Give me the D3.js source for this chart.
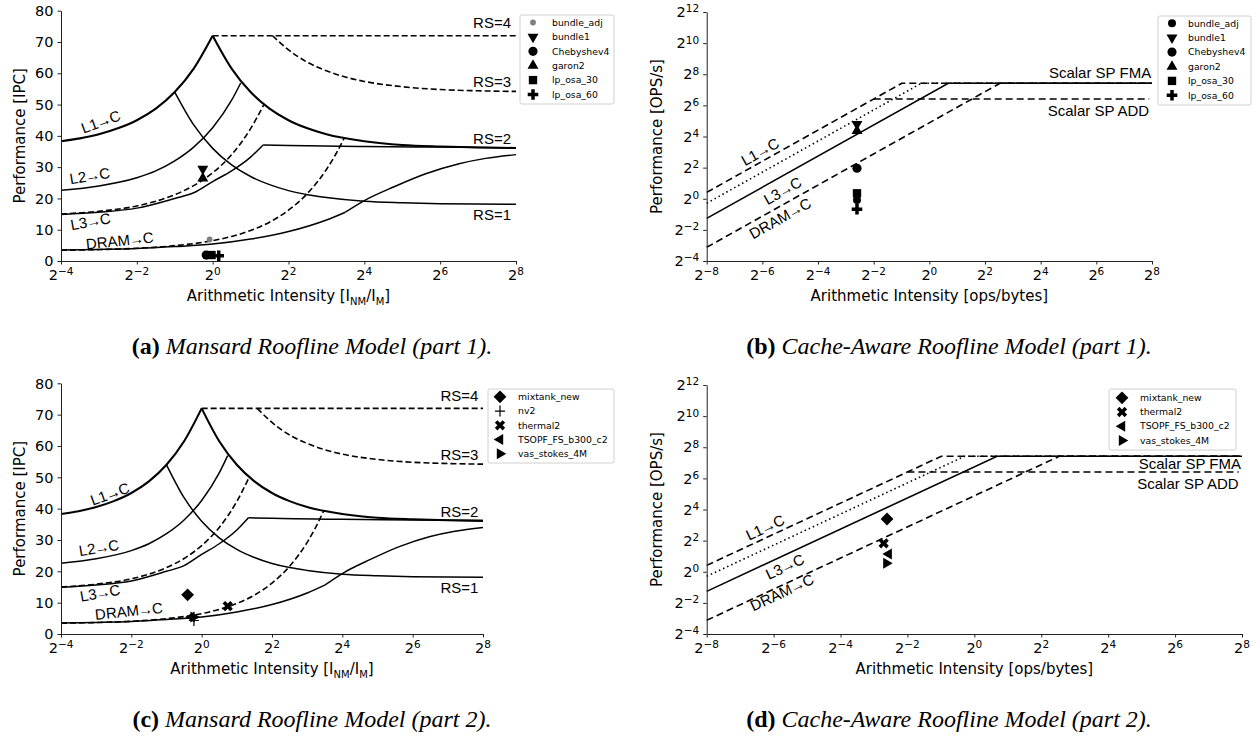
<!DOCTYPE html>
<html>
<head>
<meta charset="utf-8">
<script src="https://cdn.jsdelivr.net/npm/d3@7"></script>
<style>
  body { margin: 0; background: #fff; }
</style>
</head>
<body>
<script>
// ---- values ----
// Mansard curves: x is log2(I_NM/I_M), y is IPC
const l1Exp = [-4, -3.5, -3, -2.5, -2, -1.5, -1, -0.5, 0];
const l1Ipc = [38.3, 39.2, 40.5, 42.4, 45, 48.7, 54, 61.5, 72];
const rs2Exp = [0, 0.5, 1, 1.5, 2, 2.5, 3, 4, 5, 6, 7, 8];
const rs2Ipc = [72, 61.5, 54, 48.7, 45, 42.4, 40.5, 38.3, 37.1, 36.6, 36.3, 36.1];
const rs1Exp = [-1, -0.5, 0, 0.5, 1, 1.5, 2, 2.5, 3, 4, 5, 6, 8];
const rs1Ipc = [54, 43.5, 36, 30.7, 27, 24.4, 22.5, 21.2, 20.3, 19.1, 18.6, 18.3, 18.1];
const rs3Exp = [1.58, 2, 2.5, 3, 3.5, 4, 5, 6, 7, 8];
const rs3Ipc = [72, 67.5, 63.5, 60.8, 58.8, 57.4, 55.7, 54.8, 54.4, 54.2];
const rs4Exp = [0, 8];
const rs4Ipc = [72, 72];
const l2Exp = [-4, -3, -2, -1.5, -1, -0.5, 0, 0.5, 0.74];
const l2Ipc = [22.6, 24, 26.6, 28.8, 32, 36.4, 42.6, 51.4, 56.9];
const l3DashExp = [-4, -3, -2, -1, -0.5, 0, 0.5, 1, 1.35];
const l3DashIpc = [15, 15.9, 17.6, 21.2, 24.1, 28.2, 34, 42.3, 50];
const l3Exp = [-4, -3, -2, -1, -0.5, 0, 0.5, 1, 1.33];
const l3Ipc = [14.9, 15.6, 16.9, 20, 21.8, 25.4, 28.8, 33.2, 37.1];
const l3FlatExp = [1.33, 2, 4, 6, 8];
const l3FlatIpc = [37.1, 36.9, 36.6, 36.4, 36.2];
const dramDashExp = [-4, -3, -2, -1, 0, 0.5, 1, 1.5, 2, 2.5, 3, 3.25, 3.47];
const dramDashIpc = [3.45, 3.66, 4.06, 4.9, 6.5, 7.85, 9.75, 12.4, 16.25, 21.6, 29.25, 34.2, 39.3];
const dramExp = [-4, -3, -2, -1, 0, 1, 2, 3, 3.5];
const dramIpc = [3.5, 3.7, 4.0, 4.6, 5.4, 7.0, 9.4, 13.1, 15.6];
const dramHighExp = [3.5, 4, 4.8, 5.6, 6.5, 7.2, 8];
const dramHighIpc = [15.6, 19.3, 23.8, 27.8, 31.1, 32.8, 34.0];

// cache-aware roofs, all log2
const roofNames = ["L1", "L2", "L3", "DRAM"];
const roofBw = [8.41, 7.71, 6.74, 4.88];
const peakFma = 7.42;
const peakAdd = 6.41;

// benchmark matrices
const part1Names = ["bundle_adj", "bundle1", "Chebyshev4", "garon2", "lp_osa_30", "lp_osa_60"];
const mansard1Exp = [-0.08, -0.26, -0.17, -0.26, -0.03, 0.16];
const mansard1Ipc = [6.9, 29.4, 1.9, 26.4, 1.9, 1.7];
const car1Exp = [-2.6, -2.6, -2.6, -2.6, -2.6, -2.6];
const car1Perf = [-0.08, 4.8, 1.96, 4.37, 0.35, -0.68];

const part2Names = ["mixtank_new", "nv2", "thermal2", "TSOPF_FS_b300_c2", "vas_stokes_4M"];
const mansard2Exp = [-0.40, -0.22, 0.74, -0.29, -0.23];
const mansard2Ipc = [12.5, 4.3, 8.9, 5.4, 5.4];
const car2Names = ["mixtank_new", "thermal2", "TSOPF_FS_b300_c2", "vas_stokes_4M"];
const car2Exp = [-2.61, -2.71, -2.56, -2.63];
const car2Perf = [3.39, 1.83, 1.14, 0.54];

// ticks
const ipcTicks = [0, 10, 20, 30, 40, 50, 60, 70, 80];
const mansardXTicks = [-4, -2, 0, 2, 4, 6, 8];
const carXTicks = [-8, -6, -4, -2, 0, 2, 4, 6, 8];
const carYTicks = [-4, -2, 0, 2, 4, 6, 8, 10, 12];

const markerOf = {
  bundle_adj: "circleSmall", bundle1: "triDown", Chebyshev4: "circle", garon2: "triUp",
  lp_osa_30: "square", lp_osa_60: "plusFilled", mixtank_new: "diamond", nv2: "plusThin",
  thermal2: "xFilled", TSOPF_FS_b300_c2: "triLeft", vas_stokes_4M: "triRight"
};

const tickFont = "'DejaVu Sans', sans-serif";
const curveFont = "'Liberation Sans', Arial, sans-serif";
const serifFont = "'Liberation Serif', 'DejaVu Serif', serif";

const svg = d3.select("body").append("svg")
  .attr("width", 1260)
  .attr("height", 740);

function zip(a, b) { return a.map((v, i) => [v, b[i]]); }

function supLabel(text, exp) {
  text.append("tspan").text("2");
  text.append("tspan")
    .attr("dy", "-0.45em")
    .attr("font-size", "10.5px")
    .text(exp < 0 ? "\u2212" + (-exp) : exp);
}

// "L1→C" style label with a tighter arrow
function arrowLabel(text, src) {
  text.append("tspan").text(src);
  text.append("tspan").attr("dx", -1).text("\u2192");
  text.append("tspan").attr("dx", -1).text("C");
}

function drawMarker(g, kind, px, py, adjGray) {
  if (kind === "plusThin") {
    g.append("path")
      .attr("d", `M${px - 5},${py}H${px + 5}M${px},${py - 5.5}V${py + 5.5}`)
      .attr("stroke", "#000").attr("stroke-width", 1.2).attr("fill", "none");
    return;
  }
  const spec = {
    circle: [d3.symbolCircle, 66, 0],
    circleSmall: adjGray ? [d3.symbolCircle, 26, 0] : [d3.symbolCircle, 50, 0],
    triUp: [d3.symbolTriangle, 52, 0],
    triDown: [d3.symbolTriangle, 52, 180],
    triLeft: [d3.symbolTriangle, 52, -90],
    triRight: [d3.symbolTriangle, 52, 90],
    square: [d3.symbolSquare, 70, 0],
    diamond: [d3.symbolSquare, 82, 45],
    plusFilled: [d3.symbolCross, 62, 0],
    xFilled: [d3.symbolCross, 66, 45]
  }[kind];
  g.append("path")
    .attr("d", d3.symbol(spec[0], spec[1])())
    .attr("transform", `translate(${px},${py}) rotate(${spec[2]})`)
    .attr("fill", kind === "circleSmall" && adjGray ? "#7f7f7f" : "#000");
}

function drawLegend(box, names, adjGray) {
  const g = svg.append("g");
  g.append("rect")
    .attr("x", box.x).attr("y", box.y)
    .attr("width", box.w).attr("height", box.h)
    .attr("rx", 2)
    .attr("fill", "#fff").attr("fill-opacity", 0.85)
    .attr("stroke", "#d0d0d0");
  names.forEach((n, i) => {
    const cy = box.row0 + i * box.step;
    drawMarker(g, markerOf[n], box.mx, cy, adjGray);
    g.append("text")
      .attr("x", box.tx).attr("y", cy).attr("dy", "0.35em")
      .attr("font-family", tickFont).attr("font-size", "9.3px")
      .text(n);
  });
}

function drawAxes(box, x, y, xTicks, yTicks, logY) {
  const g = svg.append("g").attr("font-family", tickFont);
  g.append("g").attr("transform", `translate(0,${box.bottom})`)
    .call(d3.axisBottom(x).tickValues(xTicks.map(e => 2 ** e)).tickSize(3.5).tickSizeOuter(0).tickFormat(""));
  g.append("g").attr("transform", `translate(${box.left},0)`)
    .call(d3.axisLeft(y).tickValues(logY ? yTicks.map(e => 2 ** e) : yTicks).tickSize(3.5).tickSizeOuter(0).tickFormat(""));
  g.selectAll(".domain, .tick line").attr("stroke", "#222");

  g.selectAll(".xlab").data(xTicks).join("text")
    .attr("x", e => x(2 ** e)).attr("y", box.bottom + 19)
    .attr("text-anchor", "middle").attr("font-size", "14.5px")
    .each(function (e) { supLabel(d3.select(this), e); });

  const yl = g.selectAll(".ylab").data(yTicks).join("text")
    .attr("x", box.left - 7.5)
    .attr("y", d => logY ? y(2 ** d) : y(d))
    .attr("dy", "0.36em")
    .attr("text-anchor", "end").attr("font-size", "14.5px");
  if (logY) yl.each(function (e) { supLabel(d3.select(this), e); });
  else yl.text(d => d);
}

function xTitle(box, mansard) {
  const t = svg.append("text")
    .attr("x", (box.left + box.right) / 2).attr("y", box.bottom + 40)
    .attr("text-anchor", "middle")
    .attr("font-family", tickFont).attr("font-size", "15px");
  if (mansard) {
    t.append("tspan").text("Arithmetic Intensity [I");
    t.append("tspan").attr("dy", 3.5).attr("font-size", "10px").text("NM");
    t.append("tspan").attr("dy", -3.5).text("/I");
    t.append("tspan").attr("dy", 3.5).attr("font-size", "10px").text("M");
    t.append("tspan").attr("dy", -3.5).text("]");
  } else {
    t.text("Arithmetic Intensity [ops/bytes]");
  }
}

function yTitle(box, xpos, label) {
  svg.append("text")
    .attr("transform", `translate(${xpos},${(box.top + box.bottom) / 2}) rotate(-90)`)
    .attr("text-anchor", "middle")
    .attr("font-family", tickFont).attr("font-size", "15px")
    .text(label);
}

function caption(cx, by, tag, rest) {
  const t = svg.append("text")
    .attr("x", cx).attr("y", by)
    .attr("text-anchor", "middle")
    .attr("font-family", serifFont).attr("font-size", "24px");
  t.append("tspan").attr("font-weight", "bold").text(tag);
  t.append("tspan").attr("font-style", "italic").text(" " + rest);
}

function drawMansard(box, names, exps, ipcs, labels, adjGray) {
  const x = d3.scaleLog().base(2).domain([2 ** -4, 2 ** 8]).range([box.left, box.right]);
  const y = d3.scaleLinear().domain([0, 80]).range([box.bottom, box.top]);

  const line = d3.line()
    .x(d => x(2 ** d[0]))
    .y(d => y(d[1]))
    .curve(d3.curveMonotoneX);

  const series = [
    { d: zip(rs4Exp, rs4Ipc), dash: "6,3", w: 1.6 },
    { d: zip(rs3Exp, rs3Ipc), dash: "6,3", w: 1.6 },
    { d: zip(l3DashExp, l3DashIpc), dash: "6,3", w: 1.6 },
    { d: zip(dramDashExp, dramDashIpc), dash: "6,3", w: 1.6 },
    { d: zip(rs1Exp, rs1Ipc), dash: null, w: 1.5 },
    { d: zip(l2Exp, l2Ipc), dash: null, w: 1.5 },
    { d: zip(l3Exp, l3Ipc), dash: null, w: 1.5 },
    { d: zip(l3FlatExp, l3FlatIpc), dash: null, w: 1.5 },
    { d: zip(dramExp, dramIpc), dash: null, w: 1.5 },
    { d: zip(dramHighExp, dramHighIpc), dash: null, w: 1.5 },
    { d: zip(l1Exp, l1Ipc), dash: null, w: 2.1 },
    { d: zip(rs2Exp, rs2Ipc), dash: null, w: 2.1 }
  ];

  svg.append("g").selectAll("path")
    .data(series)
    .join("path")
    .attr("d", s => line(s.d))
    .attr("fill", "none")
    .attr("stroke", "#000")
    .attr("stroke-width", s => s.w)
    .attr("stroke-dasharray", s => s.dash);

  drawAxes(box, x, y, mansardXTicks, ipcTicks, false);

  // RS labels at the right end
  const rs = [["RS=4", 74.4], ["RS=3", 55.6], ["RS=2", 37.4], ["RS=1", 13.1]];
  svg.append("g").selectAll("text").data(rs).join("text")
    .attr("x", x(2 ** 7.87)).attr("y", d => y(d[1]))
    .attr("text-anchor", "end")
    .attr("font-family", curveFont).attr("font-size", "15px")
    .text(d => d[0]);

  svg.append("g").selectAll("text").data(labels).join("text")
    .attr("transform", d => `translate(${x(2 ** d[1])},${y(d[2])}) rotate(${d[3]})`)
    .attr("text-anchor", "middle").attr("dy", "0.35em")
    .attr("font-family", curveFont).attr("font-size", "15px")
    .each(function (d) { arrowLabel(d3.select(this), d[0]); });

  const pg = svg.append("g");
  names.forEach((n, i) => drawMarker(pg, markerOf[n], x(2 ** exps[i]), y(ipcs[i]), adjGray));
  xTitle(box, true);
  yTitle(box, 24.5, "Performance [IPC]");
}

function drawCacheAware(box, names, exps, perfs, labels, fmaLabelY) {
  const x = d3.scaleLog().base(2).domain([2 ** -8, 2 ** 8]).range([box.left, box.right]);
  const y = d3.scaleLog().base(2).domain([2 ** -4, 2 ** 12]).range([box.bottom, box.top]);

  const line = d3.line().x(d => x(2 ** d[0])).y(d => y(2 ** d[1]));
  const styles = { L1: "7,4", L2: "1.5,3", L3: null, DRAM: "7,4", ADD: "7,4" };

  const roofs = roofNames.map((n, i) => ({
    name: n,
    d: [[-8, roofBw[i] - 8], [peakFma - roofBw[i], peakFma], [8, peakFma]]
  }));
  roofs.push({ name: "ADD", d: [[peakAdd - roofBw[0], peakAdd], [7.9, peakAdd]] });

  svg.append("g").selectAll("path")
    .data(roofs)
    .join("path")
    .attr("d", r => line(r.d))
    .attr("fill", "none")
    .attr("stroke", "#000")
    .attr("stroke-width", 1.6)
    .attr("stroke-dasharray", r => styles[r.name]);

  drawAxes(box, x, y, carXTicks, carYTicks, true);

  svg.append("text")
    .attr("x", x(2 ** 7.97)).attr("y", y(2 ** fmaLabelY))
    .attr("text-anchor", "end")
    .attr("font-family", curveFont).attr("font-size", "15px")
    .text("Scalar SP FMA");
  svg.append("text")
    .attr("x", x(2 ** 7.9)).attr("y", y(2 ** 5.3))
    .attr("text-anchor", "end")
    .attr("font-family", curveFont).attr("font-size", "15px")
    .text("Scalar SP ADD");

  const ang = -Math.atan((y(1) - y(2)) / (x(2) - x(1))) * 180 / Math.PI;
  svg.append("g").selectAll("text").data(labels).join("text")
    .attr("transform", d => `translate(${x(2 ** d[1])},${y(2 ** d[2])}) rotate(${ang})`)
    .attr("text-anchor", "middle").attr("dy", "0.35em")
    .attr("font-family", curveFont).attr("font-size", "15px")
    .each(function (d) { arrowLabel(d3.select(this), d[0]); });

  const pg = svg.append("g");
  names.forEach((n, i) => drawMarker(pg, markerOf[n], x(2 ** exps[i]), y(2 ** perfs[i]), false));
  xTitle(box, false);
  yTitle(box, 662, "Performance [OPS/s]");
}

// (a)
drawMansard({ left: 61, right: 516, top: 10.7, bottom: 261 },
  part1Names, mansard1Exp, mansard1Ipc,
  [["L1", -2.95, 44.5, -20], ["L2", -3.24, 27.2, -9],
   ["L3", -3.22, 12.6, -10], ["DRAM", -2.45, 6.5, -6]], true);
drawLegend({ x: 520, y: 15, w: 94, h: 89, row0: 22.5, step: 14.4, mx: 533, tx: 552 }, part1Names, true);

// (b)
drawCacheAware({ left: 706.7, right: 1152, top: 12, bottom: 261 },
  part1Names, car1Exp, car1Perf,
  [["L1", -6.08, 3.02], ["L3", -5.27, 0.51], ["DRAM", -5.36, -1.26]], 7.76);
drawLegend({ x: 1158, y: 16, w: 93, h: 89, row0: 23.3, step: 14.4, mx: 1172, tx: 1188 }, part1Names, false);

// (c)
drawMansard({ left: 61, right: 483, top: 383.3, bottom: 634 },
  part2Names, mansard2Exp, mansard2Ipc,
  [["L1", -2.61, 44.7, -20], ["L2", -2.92, 27.5, -9],
   ["L3", -2.89, 13.1, -10], ["DRAM", -2.07, 7.3, -6]], false);
drawLegend({ x: 488, y: 389, w: 126, h: 74, row0: 396.8, step: 14.25, mx: 500, tx: 518 }, part2Names, false);

// (d)
drawCacheAware({ left: 706.7, right: 1242, top: 385, bottom: 634 },
  car2Names, car2Exp, car2Perf,
  [["L1", -6.25, 2.84], ["L3", -5.66, 0.33], ["DRAM", -5.75, -1.33]], 6.62);
drawLegend({ x: 1109, y: 389, w: 127, h: 61, row0: 397.8, step: 14.2, mx: 1122, tx: 1140 }, car2Names, false);

caption(312, 354, "(a)", "Mansard Roofline Model (part 1).");
caption(949, 354, "(b)", "Cache-Aware Roofline Model (part 1).");
caption(312, 727, "(c)", "Mansard Roofline Model (part 2).");
caption(949, 727, "(d)", "Cache-Aware Roofline Model (part 2).");
</script>
</body>
</html>
